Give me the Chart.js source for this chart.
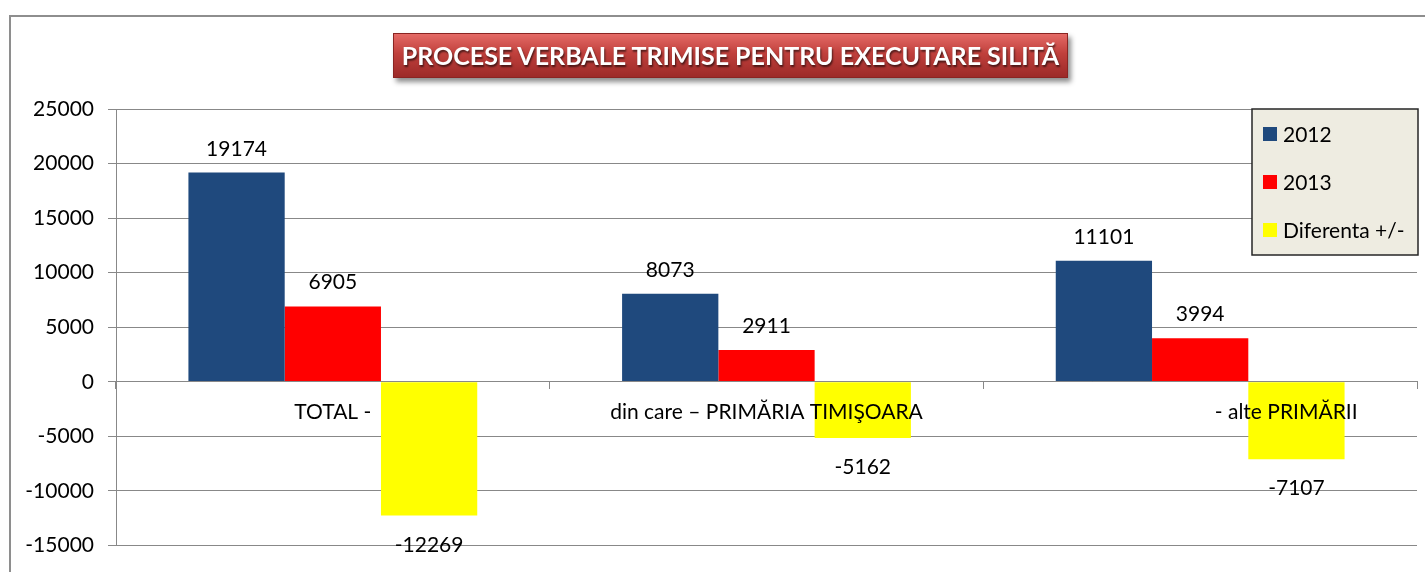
<!DOCTYPE html>
<html>
<head>
<meta charset="utf-8">
<script src="https://cdn.jsdelivr.net/npm/chart.js@4.4.1/dist/chart.umd.min.js"></script>
<style>
  html, body { margin: 0; padding: 0; background: #fff; overflow: hidden; }
  #frame {
    position: absolute; left: 9px; top: 15px; width: 1430px; height: 570px;
    border: 2px solid #8e8e8e; box-sizing: border-box;
  }
  #title {
    position: absolute; left: 393px; top: 33px; width: 675px; height: 45px;
    background: linear-gradient(to bottom, #e46a66 0%, #c0403c 45%, #9c2a28 100%);
    border: 1px solid #8a2422; box-sizing: border-box;
    box-shadow: 3px 4px 5px rgba(0,0,0,0.45);
    color: #fff; font-family: Lato, sans-serif; font-weight: 700; font-size: 25px;
    line-height: 43px; text-align: center; white-space: nowrap;
    text-shadow: 1px 2px 2px rgba(0,0,0,0.6);
  }
  #wrap { position: absolute; left: 0; top: 0; width: 1425px; height: 572px; }
</style>
</head>
<body>
<div id="frame"></div>
<div id="wrap"><canvas id="chart"></canvas></div>
<div id="title">PROCESE VERBALE TRIMISE PENTRU EXECUTARE SILITĂ</div>

<script>
// categories and series
var categories = ["TOTAL -", "din care – PRIMĂRIA TIMIŞOARA", "- alte PRIMĂRII"];
var values2012 = [19174, 8073, 11101];
var values2013 = [6905, 2911, 3994];
var diferenta = [-12269, -5162, -7107];
var seriesNames = ["2012", "2013", "Diferenta +/-"];

// the last category name carries leading blanks, which pushes it right
var labelIndent = [0, 0, 32];

Chart.defaults.font.family = "Lato, sans-serif";
Chart.defaults.font.size = 21;
Chart.defaults.color = "#000";

// value labels above positive bars, below negative ones
var valueLabels = {
  id: "valueLabels",
  afterDatasetsDraw: function(chart) {
    var ctx = chart.ctx;
    ctx.save();
    ctx.font = "21px Lato, sans-serif";
    ctx.fillStyle = "#000";
    ctx.textAlign = "center";
    ctx.textBaseline = "alphabetic";
    chart.data.datasets.forEach(function(ds, i) {
      chart.getDatasetMeta(i).data.forEach(function(bar, j) {
        var v = ds.data[j];
        var y = v >= 0 ? bar.y - 17 : bar.y + 36;
        ctx.fillText(String(v), bar.x, y);
      });
    });
    ctx.restore();
  }
};

// boxed legend in the top right corner
var boxLegend = {
  id: "boxLegend",
  afterDraw: function(chart) {
    var ctx = chart.ctx;
    var x = 1252, y = 109, w = 166, h = 146;
    ctx.save();
    ctx.fillStyle = "#eeece1";
    ctx.fillRect(x, y, w, h);
    ctx.strokeStyle = "#262626";
    ctx.lineWidth = 1.5;
    ctx.strokeRect(x, y, w, h);
    ctx.font = "21px Lato, sans-serif";
    ctx.textBaseline = "middle";
    chart.data.datasets.forEach(function(ds, i) {
      var cy = y + 25 + i * 48;
      ctx.fillStyle = ds.backgroundColor;
      ctx.fillRect(x + 11, cy - 7, 14, 14);
      ctx.fillStyle = "#000";
      ctx.fillText(ds.label, x + 31, cy + 1);
    });
    ctx.restore();
  }
};

new Chart("chart", {
  type: "bar",
  data: {
    labels: categories,
    datasets: [
      { label: seriesNames[0], data: values2012, backgroundColor: "#1f497d" },
      { label: seriesNames[1], data: values2013, backgroundColor: "#ff0000" },
      { label: seriesNames[2], data: diferenta, backgroundColor: "#ffff00" }
    ]
  },
  options: {
    responsive: true,
    maintainAspectRatio: false,
    animation: false,
    layout: { padding: { top: 109, right: 8, bottom: 25, left: 0 } },
    datasets: { bar: { categoryPercentage: 0.666, barPercentage: 1.0 } },
    plugins: {
      legend: { display: false },
      tooltip: { enabled: false }
    },
    scales: {
      x: {
        position: { y: 0 },
        offset: true,
        grid: { offset: true, drawOnChartArea: false, drawTicks: true, tickLength: 7, color: "#888", z: 1 },
        border: { display: true, color: "#888", z: 1 },
        ticks: {
          padding: 11, maxRotation: 0, font: { size: 21 }, z: 1,
          callback: function(v, i) { return " ".repeat(labelIndent[i]) + categories[i]; }
        }
      },
      y: {
        min: -15000,
        max: 25000,
        ticks: {
          stepSize: 5000, padding: 14, font: { size: 21 },
          callback: function(v) { return String(v); }
        },
        grid: { color: "#888", tickLength: 8 },
        border: { display: true, color: "#888" },
        afterFit: function(scale) { scale.width = 116; }
      }
    }
  },
  plugins: [valueLabels, boxLegend]
});
</script>
</body>
</html>
